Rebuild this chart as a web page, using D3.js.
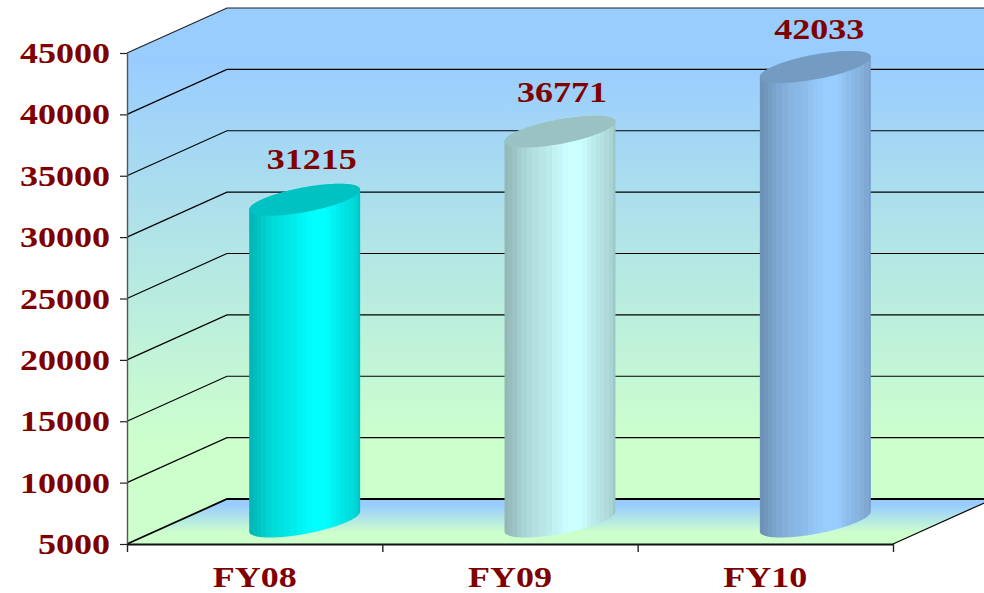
<!DOCTYPE html>
<html><head><meta charset="utf-8">
<script src="https://cdn.jsdelivr.net/npm/d3@7"></script>
<style>html,body{margin:0;padding:0;background:#fff;overflow:hidden}svg{display:block}
text{font-family:"Liberation Serif","Times New Roman",serif;font-weight:bold;fill:#800000;font-size:30px}</style>
</head><body><svg id="c" width="984" height="593"></svg>
<script>
const categories = ["FY08","FY09","FY10"];
const values = [31215,36771,42033];
const yTicks = [5000,10000,15000,20000,25000,30000,35000,40000,45000];
const baseColors = ["#00ffff","#ccffff","#99ccff"];
const labelOffsets = [[7,-31],[2,-30],[4,-28]];

const svg = d3.select("#c"), defs = svg.append("defs");
const W = 984, pL = 127, pR = 893, pT = 53, pB = 544, dX = 100, dY = 45;
const y = d3.scaleLinear().domain([5000,45000]).range([pB,pT]);
const x = d3.scaleBand().domain(categories).range([pL,pR]);

function vGrad(id, y1, y2, stops){
  const g = defs.append("linearGradient").attr("id",id).attr("gradientUnits","userSpaceOnUse")
    .attr("x1",0).attr("x2",0).attr("y1",y1).attr("y2",y2);
  stops.forEach(s=>g.append("stop").attr("offset",s[0]).attr("stop-color",s[1]));
}
const wallStops = [[0,"#99ccff"],[0.1,"#99ccff"],[0.88,"#ccffcc"],[1,"#ccffcc"]];
vGrad("wall", pT-dY, pB-dY, wallStops);
vGrad("floor", pB-dY, pB, [[0,"#99ccff"],[0.12,"#99ccff"],[0.75,"#ccffcc"],[1,"#ccffcc"]]);

const poly = pts => "M"+pts.map(p=>p.join(",")).join("L")+"Z";
// side wall, back wall, floor
svg.append("path").attr("d",poly([[pL,pT],[pL+dX,pT-dY],[pL+dX,pB-dY],[pL,pB]])).attr("fill","url(#wall)");
svg.append("rect").attr("x",pL+dX).attr("y",pT-dY).attr("width",W-pL-dX).attr("height",pB-pT).attr("fill","url(#wall)");
svg.append("path").attr("d",poly([[pL,pB],[pR,pB],[pR+dX,pB-dY],[pL+dX,pB-dY]])).attr("fill","url(#floor)");

// grid
const grid = svg.append("g").attr("fill","none").attr("stroke","#000");
yTicks.forEach(t=>{
  const yy = y(t);
  grid.append("path").attr("d",`M${pL},${yy}L${pL+dX},${yy-dY}L${W},${yy-dY}`)
    .attr("stroke-width",t===5000?1.8:1.2).attr("stroke",t===45000?"#222":"#000");
});
svg.append("path").attr("d",`M${pR},${pB}L${pR+dX},${pB-dY}`).attr("fill","none").attr("stroke","#000").attr("stroke-width",1.2);

// cylinders
const rx = 55.5, ax = 43.3, bx = 34.7, by = 16;
const ell = (cx,cy,t)=>[cx+ax*Math.cos(t)+bx*Math.sin(t), cy-by*Math.sin(t)];
const t0 = Math.atan2(bx,ax);
const tF = [0,.035,.07,.11,.15,.2,.25,.31,.37,.43,.48,.52,.57,.64,.7,.74,.78,.82,.86,.9,.94,.98,1];
const shade = [.72,.74,.77,.80,.83,.86,.88,.90,.92,.95,.97,.99,1,1,.98,.95,.92,.90,.88,.86,.83,.78];
function rgbMix(c,k){const r=d3.rgb(c);return d3.rgb(r.r*k,r.g*k,r.b*k).formatHex();}
const line = d3.line();
categories.forEach((c,i)=>{
  const cx = x(c)+x.bandwidth()/2+dX/2;
  const cyTop = y(values[i])-dY/2, cyBot = y(5000)-dY/2;
  const g = defs.append("linearGradient").attr("id","cyl"+i).attr("gradientUnits","userSpaceOnUse")
    .attr("x1",cx-rx).attr("x2",cx+rx).attr("y1",0).attr("y2",0);
  shade.forEach((k,j)=>{
    const col = rgbMix(baseColors[i],k);
    g.append("stop").attr("offset",tF[j]).attr("stop-color",col);
    g.append("stop").attr("offset",tF[j+1]).attr("stop-color",col);
  });
  const lower = d3.range(0,61).map(n=>ell(cx,cyBot,t0+Math.PI+n/60*Math.PI));
  const upper = d3.range(0,61).map(n=>ell(cx,cyTop,t0+n/60*Math.PI));
  svg.append("path").attr("d",line(lower.concat(upper))+"Z").attr("fill",`url(#cyl${i})`);
  const full = d3.range(0,120).map(n=>ell(cx,cyTop,n/120*2*Math.PI));
  svg.append("path").attr("d",line(full)+"Z").attr("fill",rgbMix(baseColors[i],.76));
  const lx = cx+labelOffsets[i][0], ly = cyTop+labelOffsets[i][1];
  svg.append("text").attr("transform",`translate(${lx},${ly}) scale(1.2,1)`).attr("text-anchor","middle").text(values[i]);
});

// axes
const axL = d3.axisLeft(y).tickValues(yTicks).tickSize(7).tickFormat("").tickSizeOuter(0);
const gL = svg.append("g").attr("transform",`translate(${pL},0)`).call(axL);
gL.selectAll("line").attr("stroke","#222").attr("stroke-width",1.2);
gL.select(".domain").attr("stroke","#555").attr("stroke-width",1.4);
yTicks.forEach(t=>{
  svg.append("text").attr("transform",`translate(110,${y(t)+10}) scale(1.2,1)`).attr("text-anchor","end").text(t);
});
const xEdges = categories.map(c=>x(c)).concat([pR]);
const axB = d3.axisBottom(d3.scaleLinear().domain([pL,pR]).range([pL,pR])).tickValues(xEdges).tickSize(8).tickFormat("").tickSizeOuter(0);
const gB = svg.append("g").attr("transform",`translate(0,${pB})`).call(axB);
gB.selectAll("line").attr("stroke","#222").attr("stroke-width",1.4);
gB.select(".domain").attr("stroke","#111").attr("stroke-width",1.8);
categories.forEach(c=>{
  svg.append("text").attr("transform",`translate(${x(c)+x.bandwidth()/2},587) scale(1.2,1)`).attr("text-anchor","middle").text(c);
});
</script></body></html>
